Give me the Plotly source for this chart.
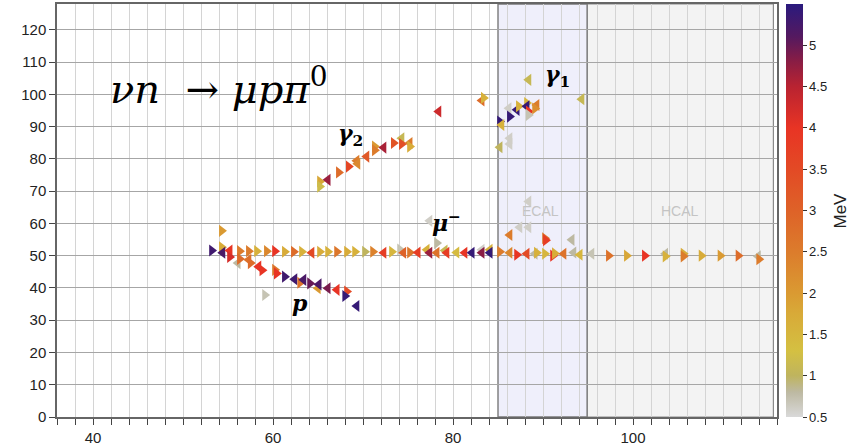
import plotly.graph_objects as go

# ---- data (x position, y position, deposited energy in MeV, triangle direction) ----
muon_x = [53.2, 54.3, 54.4, 55.2, 56.3, 57.3, 58.2, 59.3, 60.2, 61.3, 62.3, 63.2, 64.3, 65.2, 66.1,
          67.1, 68.2, 69.1, 70.2, 71.1, 72.3, 73.2, 74.1, 74.5, 75.2, 76.1, 77.1, 77.4, 78.2, 79.1,
          79.3, 80.4, 81.3, 82.1, 83.2, 83.2, 84.1, 84.1, 85.2, 86.3, 87.1, 88.2, 89.1, 89.3, 90.2,
          91.1, 91.3, 92.3, 93.4, 94.1, 95.4, 97.3, 99.3, 101.3, 103.6, 103.6, 105.6, 105.6, 107.6,
          109.7, 111.7, 113.9, 114.0]
muon_y = [51.6, 52.6, 50.9, 51.6, 51.4, 51.4, 51.4, 51.4, 51.4, 51.2, 51.2, 51.2, 50.9, 51.2, 51.2,
          51.2, 51.2, 51.2, 51.2, 51.2, 50.9, 51.2, 51.9, 50.9, 51.0, 51.0, 51.8, 50.9, 50.9, 51.6,
          50.9, 51.0, 50.9, 50.9, 51.8, 50.9, 51.8, 50.9, 51.2, 50.9, 50.3, 50.6, 50.6, 50.9, 50.6,
          50.0, 50.7, 50.6, 51.0, 50.3, 50.6, 50.0, 50.0, 50.0, 50.6, 49.8, 50.6, 49.8, 50.0,
          50.0, 50.0, 49.8, 48.9]
muon_e = [5.3, 1.7, 5.2, 4.0, 2.5, 2.5, 1.6, 2.3, 4.0, 1.7, 2.8, 1.6, 3.5, 1.7, 1.6,
          2.6, 1.7, 1.6, 1.0, 2.4, 3.8, 1.5, 0.7, 3.0, 2.6, 3.8, 1.6, 4.7, 2.7, 1.1,
          3.8, 1.4, 4.0, 5.4, 0.6, 4.8, 1.6, 5.4, 2.5, 2.3, 4.0, 3.5, 0.8, 1.6, 1.5,
          4.0, 1.7, 2.7, 0.8, 1.5, 0.7, 2.7, 1.8, 4.0, 0.8, 1.6, 1.7, 2.5, 1.7,
          2.0, 2.8, 0.8, 2.5]
muon_d = "rrllrrrrrrrrlrrrrrrrlrrlrlllllllllllllrlrllrrrrllllrrrlrrrrrrlr"

proton_x = [55.2, 56.1, 56.3, 57.3, 57.5, 58.4, 58.8, 60.2, 60.4, 61.3, 62.4, 63.0, 63.4, 64.1,
            65.0, 65.1, 66.1, 67.1, 68.2, 68.0, 69.3, 59.1]
proton_y = [49.6, 47.7, 49.0, 48.7, 47.7, 46.6, 45.5, 45.6, 44.5, 43.5, 42.7, 41.6, 42.5, 41.4,
            39.9, 41.1, 39.9, 39.4, 38.9, 37.5, 34.4, 37.8]
proton_e = [4.2, 0.8, 2.8, 2.7, 2.8, 4.0, 4.0, 2.6, 4.0, 5.3, 5.3, 2.7, 5.2, 5.0,
            2.0, 5.2, 4.9, 4.0, 3.5, 5.4, 5.4, 0.7]
proton_d = "rlrlrlrrrrlrlrllllrrlr"

gamma2_x = [65.2, 65.2, 66.1, 67.3, 68.4, 69.3, 69.4, 70.4, 71.3, 71.3, 72.3, 73.4, 74.3, 74.3, 75.2, 75.2]
gamma2_y = [73.0, 71.4, 73.5, 75.8, 77.6, 79.4, 78.5, 80.7, 83.8, 82.7, 83.5, 84.9, 86.4, 84.6, 84.9, 83.8]
gamma2_e = [1.8, 1.2, 4.7, 2.8, 3.6, 2.5, 2.3, 3.2, 2.0, 2.5, 4.6, 3.3, 1.1, 3.4, 2.5, 1.7]
gamma2_d = "rrlrrlllrrlrlrlr"

gamma1_x = [78.4, 83.2, 83.4, 88.4, 94.3, 86.2, 87.1, 87.3, 88.2, 88.2, 88.4, 88.4, 89.3, 89.1,
            86.3, 85.2, 85.4, 86.3, 86.3, 85.2]
gamma1_y = [94.7, 98.1, 98.9, 104.5, 98.5, 95.7, 95.2, 96.3, 97.3, 96.3, 94.7, 93.6, 96.7, 95.6,
            93.1, 91.6, 90.5, 86.4, 84.6, 83.6]
gamma1_e = [4.3, 2.8, 1.6, 1.1, 1.1, 0.6, 5.4, 1.6, 1.5, 5.4, 4.0, 0.7, 2.5, 2.2,
            5.4, 5.4, 1.6, 0.6, 0.6, 1.0]
gamma1_d = "llrllllrrlrrlrrrllll"

other_x = [54.3, 77.4, 78.2, 86.3, 87.4, 88.4, 88.4, 90.2, 90.3, 93.2]
other_y = [57.7, 60.8, 53.9, 56.4, 58.8, 58.8, 66.8, 55.4, 54.8, 54.9]
other_e = [2.0, 0.6, 0.8, 2.5, 0.6, 0.6, 0.6, 2.6, 3.8, 0.8]
other_d = "rlrllllrrl"

x_range = [36, 116]
y_range = [0, 128]
ecal = [85, 94.9]
hcal = [94.9, 115.6]
cbar_ticks = [0.5, 1, 1.5, 2, 2.5, 3, 3.5, 4, 4.5, 5]

colorscale = [
    [0.00, "#d9d9d9"], [0.06, "#bdb9a2"], [0.10, "#bfb45e"], [0.16, "#d4c042"],
    [0.25, "#d8aa38"], [0.30, "#da9a32"], [0.40, "#dc7c2c"], [0.50, "#de6228"],
    [0.60, "#e34a25"], [0.70, "#e83424"], [0.80, "#b92331"], [0.86, "#8a1d44"],
    [0.92, "#55195f"], [1.00, "#2a1a7e"],
]

sym = {"r": "triangle-right", "l": "triangle-left"}

fig = go.Figure()

# detector regions
fig.add_shape(type="rect", xref="x", yref="paper", x0=hcal[0], x1=hcal[1], y0=0, y1=1,
              fillcolor="#f3f3f3", line=dict(color="#8a8a8a", width=1.2), layer="below")
fig.add_shape(type="rect", xref="x", yref="paper", x0=ecal[0], x1=ecal[1], y0=0, y1=1,
              fillcolor="#efeffb", line=dict(color="#7a7a7a", width=1.4), layer="below")

for name, xs, ys, es, ds in [
    ("μ", muon_x, muon_y, muon_e, muon_d),
    ("p", proton_x, proton_y, proton_e, proton_d),
    ("γ2", gamma2_x, gamma2_y, gamma2_e, gamma2_d),
    ("γ1", gamma1_x, gamma1_y, gamma1_e, gamma1_d),
    ("other", other_x, other_y, other_e, other_d),
]:
    fig.add_trace(go.Scatter(
        x=xs, y=ys, mode="markers", name=name, showlegend=False,
        marker=dict(symbol=[sym[c] for c in ds], size=10.5, color=es, coloraxis="coloraxis",
                    line=dict(width=0)),
    ))

sans = "Liberation Sans, Arial, sans-serif"
fig.update_layout(
    width=860, height=448,
    margin=dict(l=57, r=83, t=4, b=31, autoexpand=False),
    paper_bgcolor="white", plot_bgcolor="white",
    font=dict(family=sans, size=14, color="#222"),
    coloraxis=dict(
        cmin=0.5, cmax=5.5, colorscale=colorscale,
        colorbar=dict(
            x=1.0125, xanchor="left", xpad=0, y=0.5, yanchor="middle", len=1.0, ypad=0,
            thickness=17, outlinewidth=0,
            tickvals=cbar_ticks, ticktext=[f"{v:g}" for v in cbar_ticks],
            ticks="outside", ticklen=4, tickcolor="#333", tickfont=dict(size=13, color="#222"),
            title=dict(text=""),
        ),
    ),
    xaxis=dict(
        range=x_range, dtick=20, tick0=0, ticks="outside", ticklen=6, tickcolor="#444",
        showgrid=True, gridcolor="#d4d4d4", gridwidth=1, zeroline=False, automargin=False,
        showline=True, linecolor="#666", linewidth=1.5, mirror=True,
        minor=dict(dtick=2, tick0=0, ticks="outside", ticklen=6, tickcolor="#444",
                   showgrid=True, gridcolor="#d4d4d4", gridwidth=1),
        tickfont=dict(size=15, color="#222"),
    ),
    yaxis=dict(
        range=y_range, dtick=10, tick0=0, ticks="outside", ticklen=6, tickcolor="#444",
        showgrid=True, gridcolor="#a6a6a6", gridwidth=1, zeroline=False, automargin=False,
        showline=True, linecolor="#666", linewidth=1.5, mirror=True,
        tickfont=dict(size=15, color="#222"),
    ),
)

# colorbar title
fig.add_annotation(x=(840 - 57) / 720, y=0.5, xref="paper", yref="paper", text="MeV",
                   textangle=-90, showarrow=False, xanchor="center", yanchor="middle",
                   font=dict(family=sans, size=17, color="#222"))

serif = "DejaVu Serif, Liberation Serif, serif"
fig.add_annotation(x=41.7, y=102.5, xref="x", yref="y", xanchor="left", yanchor="middle",
                   text="<i>νn</i>&nbsp;&nbsp;→&nbsp;<i>μpπ</i><sup>0</sup>", showarrow=False,
                   font=dict(family=serif, size=40, color="black"))
for txt, ax, ay in [("<b><i>γ</i></b><sub><b>1</b></sub>", 91.6, 105.8),
                    ("<b><i>γ</i></b><sub><b>2</b></sub>", 68.6, 87.4),
                    ("<b><i>μ</i></b><sup><b>−</b></sup>", 79.3, 60.5),
                    ("<b><i>p</i></b>", 63.0, 35.3)]:
    fig.add_annotation(x=ax, y=ay, xref="x", yref="y", text=txt, showarrow=False,
                       font=dict(family=serif, size=22, color="black"))
for txt, ax in [("ECAL", 89.7), ("HCAL", 105.2)]:
    fig.add_annotation(x=ax, y=63.9, xref="x", yref="y", text=txt, showarrow=False,
                       font=dict(family=sans, size=14, color="#c4c4c4"))

fig.write_html("out.html")
